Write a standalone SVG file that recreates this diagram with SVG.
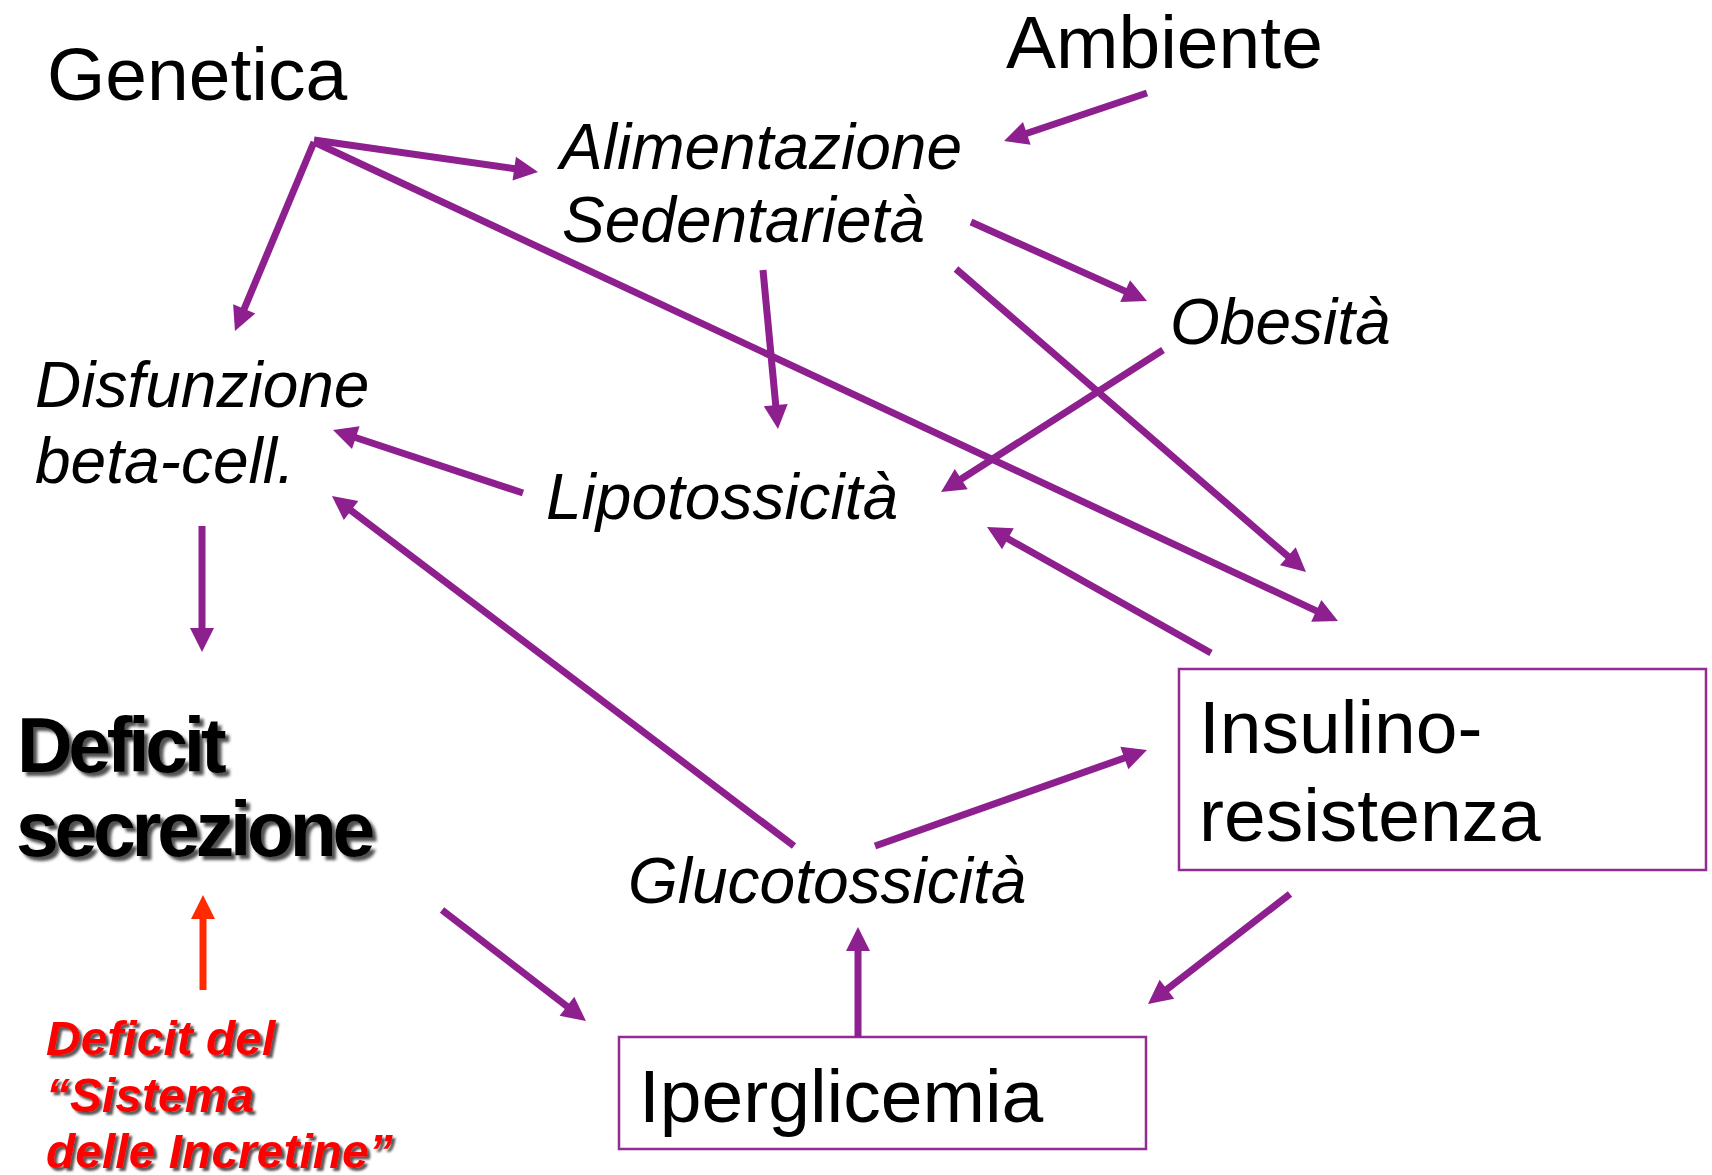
<svg xmlns="http://www.w3.org/2000/svg" width="1712" height="1175" viewBox="0 0 1712 1175">
<style>
text{font-family:"Liberation Sans",Arial,Helvetica,sans-serif;fill:#000}
.big{font-size:75px}
.it{font-size:64px;font-style:italic}
.bold{font-size:77px;font-weight:bold;letter-spacing:-4.3px}
.red{font-size:48px;font-weight:bold;font-style:italic;fill:#FF0000}
.box{fill:#fff;stroke:#922B92;stroke-width:2.5}
.c line{stroke:#8E1F8E;stroke-width:7;marker-end:url(#ah)}
</style>
<defs>
<marker id="ah" markerUnits="userSpaceOnUse" markerWidth="24" markerHeight="24" refX="6" refY="12" orient="auto" overflow="visible">
<path d="M0,0 L24,12 L0,24 z" fill="#8E1F8E"/>
</marker>
<marker id="ahr" markerUnits="userSpaceOnUse" markerWidth="24" markerHeight="24" refX="6" refY="12" orient="auto" overflow="visible">
<path d="M0,0 L24,12 L0,24 z" fill="#FF2A00"/>
</marker>
<filter id="sh" x="-20%" y="-30%" width="140%" height="160%">
<feDropShadow dx="4" dy="4" stdDeviation="1.6" flood-color="#333" flood-opacity="0.85"/>
</filter>
<filter id="shr" x="-20%" y="-30%" width="140%" height="160%">
<feDropShadow dx="3" dy="3" stdDeviation="1.2" flood-color="#333" flood-opacity="0.8"/>
</filter>
</defs>
<rect width="1712" height="1175" fill="#fff"/>

<g id="genetica"><text class="big" x="47" y="100">Genetica</text></g>
<g id="ambiente"><text class="big" x="1006" y="68">Ambiente</text></g>
<g id="alimentazione"><text class="it" x="560" y="169">Alimentazione</text><text class="it" x="562" y="242">Sedentarietà</text></g>
<g id="obesita"><text class="it" x="1170" y="344">Obesità</text></g>
<g id="disfunzione"><text class="it" x="35" y="407">Disfunzione</text><text class="it" x="35" y="483">beta-cell.</text></g>
<g id="lipotossicita"><text class="it" x="546" y="519">Lipotossicità</text></g>
<g id="glucotossicita"><text class="it" x="628" y="903">Glucotossicità</text></g>
<g id="deficit" filter="url(#sh)"><text class="bold" x="17" y="772">Deficit</text><text class="bold" x="16" y="856">secrezione</text></g>
<g id="incretine" filter="url(#shr)"><text class="red" x="46" y="1055">Deficit del</text><text class="red" x="46" y="1112">“Sistema</text><text class="red" x="46" y="1168">delle Incretine”</text></g>
<g id="insulino"><rect class="box" x="1179" y="669" width="527" height="201"/><text class="big" x="1199" y="753">Insulino-</text><text class="big" x="1199" y="841">resistenza</text></g>
<g id="iperglicemia"><rect class="box" x="619" y="1037" width="527" height="112"/><text class="big" x="639" y="1122">Iperglicemia</text></g>

<g id="connectors" class="c">
<line x1="314" y1="140" x2="520.2" y2="169.5"/>
<line x1="314" y1="142" x2="241.9" y2="314.4"/>
<line x1="314" y1="142" x2="1321.7" y2="613.4"/>
<line x1="1147" y1="93" x2="1021.1" y2="135.3"/>
<line x1="971" y1="222" x2="1130.6" y2="293.6"/>
<line x1="763" y1="270" x2="776.3" y2="411.1"/>
<line x1="956" y1="269" x2="1292.4" y2="560.2"/>
<line x1="1163" y1="350" x2="956.2" y2="482.3"/>
<line x1="523" y1="493" x2="350.1" y2="435.7"/>
<line x1="794" y1="846" x2="346.3" y2="506.9"/>
<line x1="202" y1="526" x2="202" y2="634"/>
<line x1="442" y1="910" x2="571.7" y2="1010"/>
<line x1="858" y1="1037" x2="858" y2="945"/>
<line x1="875" y1="846" x2="1130" y2="756"/>
<line x1="1211" y1="653" x2="1002.7" y2="535.8"/>
<line x1="1290" y1="894" x2="1162.2" y2="993"/>
<line x1="203" y1="990" x2="203" y2="913" style="stroke:#FF2A00;marker-end:url(#ahr)"/>
</g>
</svg>
